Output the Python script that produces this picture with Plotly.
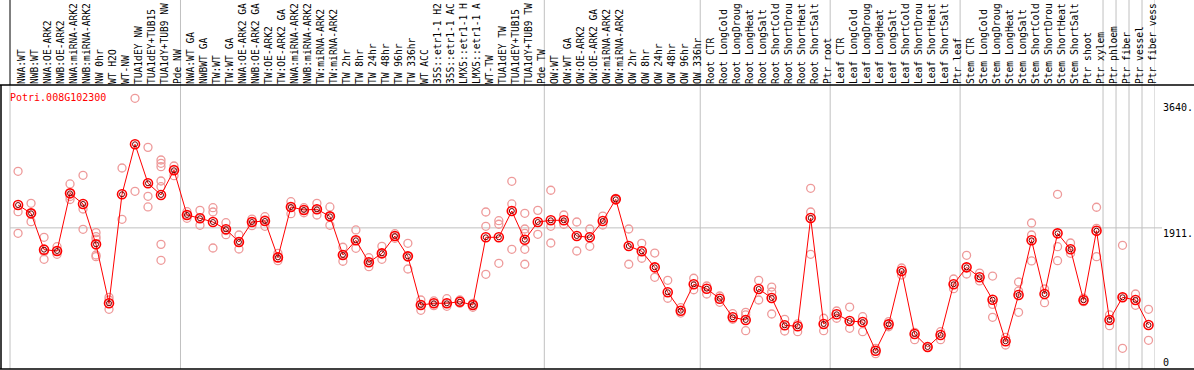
import plotly.graph_objects as go

labels = ["NWA:WT", "NWB:WT", "NWA:OE-ARK2", "NWB:OE-ARK2", "NWA:miRNA-ARK2", "NWB:miRNA-ARK2",
          "NW 0hr", "WT H2O", "WT-NW", "TUA1dEY NW", "TUA1dEY+TUB15 NW", "TUA1dY+TUB9 NW", "Pde NW",
          "NWA:WT GA", "NWBWT GA", "TW:WT", "TW:WT GA", "NWA:OE-ARK2 GA", "NWB:OE-ARK2 GA",
          "TW:OE-ARK2", "TW:OE-ARK2 GA", "NWA:miRNA-ARK2 GA", "NWB:miRNA-ARK2 GA", "TW:miRNA-ARK2",
          "TW:miRNA-ARK2", "TW 2hr", "TW 8hr", "TW 24hr", "TW 48hr", "TW 96hr", "TW 336hr", "WT ACC",
          "35S::etr1-1 H2O", "35S::etr1-1 ACC", "LMX5::etr1-1 H2O", "LMX5::etr1-1 ACC", "WT-TW",
          "TUA1dEY TW", "TUA1dEY+TUB15 TW", "TUA1dY+TUB9 TW", "Pde TW",
          "OW:WT", "OW:WT GA", "OW:OE-ARK2", "OW:OE-ARK2 GA", "OW:miRNA-ARK2", "OW:miRNA-ARK2",
          "OW 2hr", "OW 8hr", "OW 24hr", "OW 48hr", "OW 96hr", "OW 336hr",
          "Root CTR", "Root LongCold", "Root LongDrought", "Root LongHeat", "Root LongSalt",
          "Root ShortCold", "Root ShortDrought", "Root ShortHeat", "Root ShortSalt", "Ptr root",
          "Leaf CTR", "Leaf LongCold", "Leaf LongDrought", "Leaf LongHeat", "Leaf LongSalt",
          "Leaf ShortCold", "Leaf ShortDrought", "Leaf ShortHeat", "Leaf ShortSalt", "Ptr leaf",
          "Stem CTR", "Stem LongCold", "Stem LongDrought", "Stem LongHeat", "Stem LongSalt",
          "Stem ShortCold", "Stem ShortDrought", "Stem ShortHeat", "Stem ShortSalt", "Ptr shoot",
          "Ptr xylem", "Ptr phloem", "Ptr fiber", "Ptr vessel", "Ptr fiber vessel"]

means = [2216, 2105, 1620, 1602, 2372, 2230, 1691, 904, 2359, 3027, 2506, 2350, 2680,
         2083, 2039, 1989, 1892, 1722, 1989, 2003, 1517, 2190, 2150, 2159, 2065, 1549, 1745,
         1451, 1571, 1802, 1531, 881, 904, 904, 925, 881, 1785, 1785, 2136, 1753, 1989,
         2012, 2012, 1802, 1785, 2003, 2292, 1669, 1598, 1384, 1051, 805, 1158,
         1099, 965, 717, 681, 1095, 975, 610, 597, 2043, 628,
         757, 668, 654, 271, 623, 1335, 494, 320, 481, 1158,
         1384, 1251, 952, 397, 1015, 1745, 1028, 1838, 1625, 944, 1873,
         681, 984, 948, 614]

replicates = [
    [2666, 2127, 1838], [2239, 2105, 1994], [1785, 1593, 1491], [1660, 1602, 1558],
    [2497, 2330, 2290], [2613, 2163, 1892], [1847, 1793, 1762, 1549, 1526], [984, 948, 824],
    [2710, 2025], [3641, 2399], [2986, 2332, 2190], [2817, 2773, 2728, 2537, 2461, 1691, 1478],
    [2737, 2690, 2608],
    [2127, 2083, 2039], [2145, 2039, 1945], [2180, 2123, 1642], [1980, 1876, 1820],
    [1816, 1722, 1629], [2029, 1989, 1940], [2060, 2016, 1932], [1571, 1517, 1473],
    [2260, 2190, 2100], [2180, 2150, 2113], [2239, 2159, 2083], [2190, 2065, 1945],
    [1652, 1549, 1465], [1883, 1745, 1638], [1513, 1451, 1393], [1665, 1571, 1491],
    [1833, 1802, 1772], [1705, 1531, 1362], [948, 881, 810], [935, 904, 872],
    [965, 904, 864], [948, 925, 904], [904, 881, 850], [2123, 1932, 1291],
    [2007, 1959, 1438], [2533, 2230, 1625], [2105, 1896, 1838, 1625, 1425], [2145, 1825],
    [2413, 1932, 1709], [2083, 1959], [1989, 1602], [1896, 1665], [2069, 1949], [2306, 2292],
    [1896, 1425], [1705, 1505], [1575, 1251], [1211, 971], [845, 774], [1238, 1085],
    [1135, 1028], [1001, 917], [765, 690], [784, 748, 538], [1211, 948], [1121, 1055, 761],
    [690, 534], [628, 525], [2439, 2123, 1558], [704, 538],
    [801, 704], [854, 570], [725, 525], [303, 231], [658, 591], [1375, 1282], [517, 418],
    [320], [525, 418], [1228, 1099],
    [1545, 1295], [1308, 1202], [1268, 890, 717], [450, 347], [1188, 1068, 784],
    [1976, 1816, 1469], [1095, 912], [2359, 1660, 1473], [1709, 1571], [971, 925],
    [2186, 1905, 1526],
    [748, 605], [1678, 984, 303], [1028, 877], [824, 410]]

gene = "Potri.008G102300"
group_ends = [12, 40, 52, 62, 72, 83, 84, 85, 86, 87]
y_ticks = [("3640.", 3640), ("1911.", 1911), ("0", 0)]
gridline_value = 1911
label_chars = 14  # the reference clips long labels at the top edge

xs = list(range(len(labels)))
rep_x = [i for i, r in enumerate(replicates) for _ in r]
rep_y = [v for r in replicates for v in r]
shown_labels = [s[:label_chars].rstrip() for s in labels]
label_offset = 0.3  # rotated glyphs sit left of their anchor; nudge to centre on the marks

FONT = "DejaVu Sans Mono"
fig = go.Figure()
fig.add_trace(go.Scatter(x=rep_x, y=rep_y, mode="markers",
                         marker=dict(symbol="circle-open", size=8, color="#ee9a9a",
                                     line=dict(width=1.3, color="#ee9a9a")),
                         hoverinfo="skip"))
fig.add_trace(go.Scatter(x=xs, y=means, mode="lines+markers",
                         line=dict(color="#ff0000", width=1),
                         marker=dict(symbol="circle-open", size=9, color="#ff0000",
                                     line=dict(width=1.6, color="#ff0000"))))
fig.add_trace(go.Scatter(x=xs, y=means, mode="markers",
                         marker=dict(symbol="circle-open", size=5, color="#700000",
                                     line=dict(width=1, color="#700000")),
                         hoverinfo="skip"))

L, R, T, B = 10, 39, 85, 1
W, H = 1194, 370
pw, ph = W - L - R, H - T - B


def px_x(p):
    return (p - L) / pw


def px_y(p):
    return (H - B - p) / ph


shapes = []
for g in group_ends:
    shapes.append(dict(type="line", xref="x", yref="paper", x0=g + 0.5, x1=g + 0.5,
                       y0=0, y1=px_y(0), line=dict(color="#c0c0c0", width=1), layer="below"))
shapes.append(dict(type="line", xref="paper", yref="paper", x0=0, x1=0, y0=0, y1=1,
                   line=dict(color="#c0c0c0", width=1), layer="below"))
shapes.append(dict(type="line", xref="paper", yref="paper", x0=0, x1=0, y0=1, y1=px_y(0),
                   line=dict(color="#000000", width=1)))
shapes.append(dict(type="line", xref="paper", yref="y", x0=0, x1=px_x(1162),
                   y0=gridline_value, y1=gridline_value,
                   line=dict(color="#c0c0c0", width=1), layer="below"))
shapes.append(dict(type="line", xref="paper", yref="paper", x0=px_x(0), x1=px_x(1194),
                   y0=1, y1=1, line=dict(color="#000000", width=1.5)))
shapes.append(dict(type="line", xref="paper", yref="paper", x0=px_x(0), x1=px_x(1194),
                   y0=0, y1=0, line=dict(color="#000000", width=1.5)))
shapes.append(dict(type="line", xref="paper", yref="paper", x0=px_x(1), x1=px_x(1),
                   y0=0, y1=1, line=dict(color="#000000", width=1.5)))

annotations = [dict(text=gene, xref="paper", yref="paper", x=px_x(8), y=px_y(97),
                    xanchor="left", yanchor="middle", showarrow=False,
                    font=dict(family=FONT, size=10, color="#ff0000"))]
label_px = {"3640.": 107, "1911.": 233, "0": 362}
for txt, val in y_ticks:
    annotations.append(dict(text=txt, xref="paper", yref="paper", x=px_x(1161),
                            y=px_y(label_px[txt]), xanchor="left", yanchor="middle",
                            showarrow=False, font=dict(family=FONT, size=10, color="#000000")))

fig.update_layout(
    width=W, height=H, margin=dict(l=L, r=R, t=T, b=B, pad=0),
    plot_bgcolor="white", paper_bgcolor="white", showlegend=False,
    shapes=shapes, annotations=annotations,
    xaxis=dict(range=[-0.62, 87.5], side="top", tickmode="array",
               tickvals=[i + label_offset for i in xs],
               ticktext=shown_labels, tickangle=-90, ticks="", showgrid=False,
               zeroline=False, showline=False, automargin=False,
               tickfont=dict(family=FONT, size=9.6, color="#000000")),
    yaxis=dict(range=[26.7, 3818.4], showticklabels=False, showgrid=False,
               zeroline=False, showline=False, automargin=False),
)

fig.write_html("out.html", config={"displayModeBar": False},
               post_script="document.body.style.margin='0';document.body.style.padding='0';")
